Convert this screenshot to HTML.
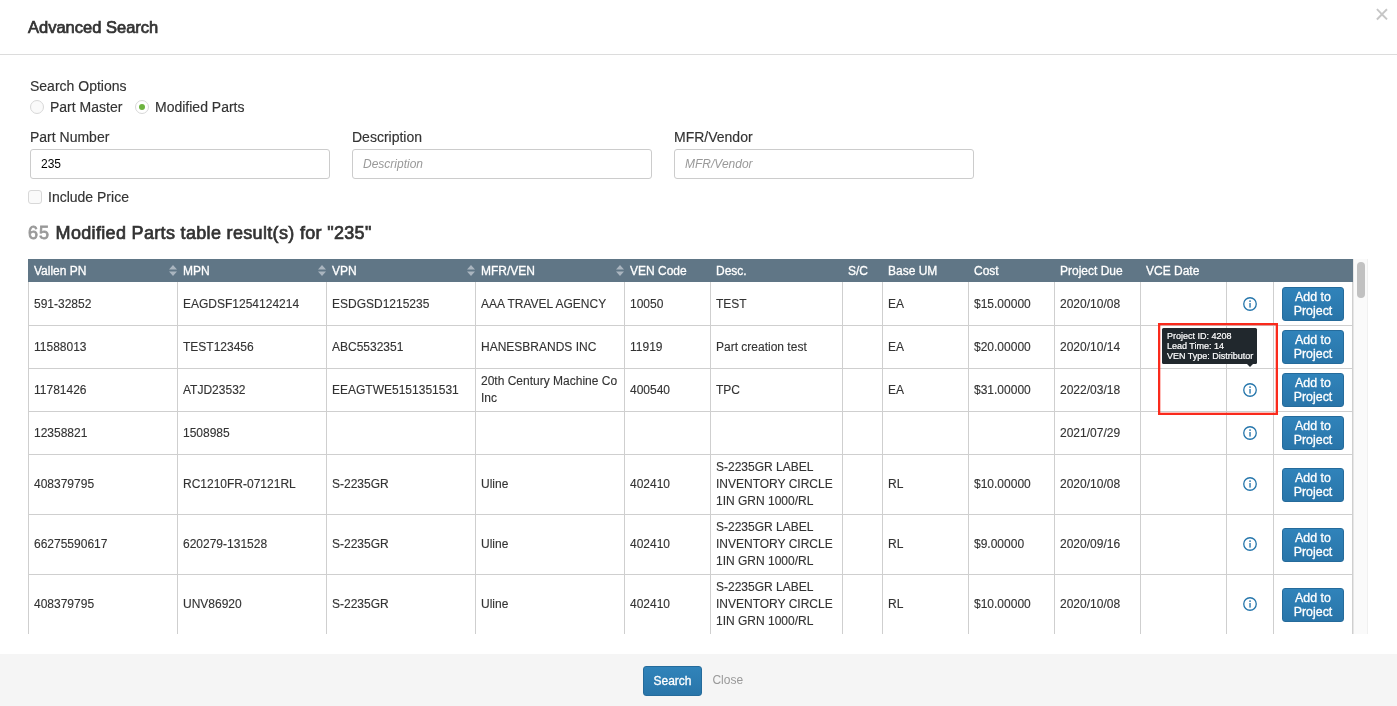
<!DOCTYPE html>
<html><head><meta charset="utf-8">
<style>
*{box-sizing:border-box}
html,body{margin:0;padding:0}
body{width:1397px;height:706px;overflow:hidden;background:#fff;font-family:"Liberation Sans",Arial,Helvetica,sans-serif;color:#333;font-size:14px;position:relative}
.hdr{position:absolute;left:0;top:0;width:1397px;height:55px;border-bottom:1px solid #dcdcdc}
.title{position:absolute;left:28px;top:17px;font-size:16.5px;line-height:20px;font-weight:normal;color:#333;-webkit-text-stroke:0.7px #333}
.x{position:absolute;left:1374.5px;top:3px;font-size:25.5px;line-height:22px;color:#c6c6c6;font-weight:normal}
.lbl{position:absolute;font-size:14px;line-height:18px;color:#333;white-space:nowrap;-webkit-text-stroke:0.15px #333}
.radio{position:absolute;width:14px;height:14px;border-radius:50%;border:1px solid #d8d8d8;background:#fafafa}
.radio.on{background:#fff}
.radio.on:after{content:"";position:absolute;left:3px;top:3px;width:6px;height:6px;border-radius:50%;background:#6db33f}
.inp{position:absolute;top:149px;width:300px;height:30px;border:1px solid #ccc;border-radius:3px;background:#fff;font-size:12px;line-height:28px;padding-left:10px;color:#000}
.inp.ph{font-style:italic;color:#999}
.chk{position:absolute;left:28px;top:190px;width:14px;height:14px;border:1px solid #d8d8d8;border-radius:3px;background:#fafafa}
.h3{position:absolute;left:28px;top:221px;font-size:18px;line-height:24px;font-weight:normal;color:#333;white-space:nowrap;letter-spacing:0.33px;-webkit-text-stroke:0.7px #333}
.h3 span{color:#999;-webkit-text-stroke:0.8px #999;letter-spacing:1.1px}
.tbl{position:absolute;left:28px;top:259px;width:1325px;height:375px;overflow:hidden}
table{border-collapse:separate;border-spacing:0;table-layout:fixed;width:1325px;font-size:12px}
th{background:#607686;color:#fff;font-weight:normal;text-align:left;height:23px;padding:1px 0 0 6px;font-size:12px;position:relative;white-space:nowrap;-webkit-text-stroke:0.3px #fff}
td{border:0 solid #cfcfcf;border-left-width:1px;border-bottom-width:1px;padding:0 4px 0 5px;color:#333;line-height:17px;vertical-align:middle;font-size:12px;-webkit-text-stroke:0.12px #333}
tr.r1 td{height:43px}
tr.r0 td{height:44px;padding-top:1px}
td.ic{padding:0}
tr.r2 td{height:60px}
tr.r2 .ico{position:relative;top:-0.6px}
td:last-child{border-right-width:1px}
.btn{display:block;width:62px;height:34px;margin:0 0 0 3px;background:linear-gradient(#3083ba,#2975a9);border:1px solid #256b9b;border-radius:3px;color:#fff;font-size:12.4px;line-height:14px;text-align:center;padding-top:2px;-webkit-text-stroke:0.3px #fff}
.ftr{position:absolute;left:0;top:654px;width:1397px;height:52px;background:#f5f5f5}
.sbtn{position:absolute;left:643px;top:666px;width:59px;height:30px;background:linear-gradient(#3083ba,#2975a9);border:1px solid #256b9b;border-radius:3px;color:#fff;font-size:12px;line-height:29px;text-align:center;-webkit-text-stroke:0.3px #fff}
.close{position:absolute;left:712.4px;top:672px;font-size:12px;line-height:16px;color:#999}
.sb{position:absolute;left:1353px;top:259px;width:15px;height:375px;background:#fafafa;border-left:1px solid #e6e6e6;border-right:1px solid #f0f0f0}
.thumb{position:absolute;left:1357px;top:262px;width:8px;height:36px;border-radius:5px;background:#c1c1c1}
.tip{position:absolute;left:1162px;top:328px;width:95px;height:36px;background:#21282d;border-radius:1.5px;color:#fff;font-size:9px;line-height:10px;padding:3px 0 0 5px;white-space:nowrap;-webkit-text-stroke:0.2px #fff}
.tip:after{content:"";position:absolute;left:84.5px;top:36px;border:3.5px solid transparent;border-top-color:#21282d;border-bottom:0}
.red{position:absolute;left:1158px;top:323px;width:120px;height:92px}
.ico{display:block;margin:0 auto}
.sort{position:absolute;right:0;top:6px}
</style></head><body>
<div class="hdr"><div class="title">Advanced Search</div><div class="x">&times;</div></div>

<div class="lbl" style="left:30px;top:77px">Search Options</div>
<div class="radio" style="left:30px;top:100px"></div>
<div class="lbl" style="left:50px;top:98px">Part Master</div>
<div class="radio on" style="left:135px;top:100px"></div>
<div class="lbl" style="left:155px;top:98px">Modified Parts</div>

<div class="lbl" style="left:30px;top:128px">Part Number</div>
<div class="lbl" style="left:352px;top:128px">Description</div>
<div class="lbl" style="left:674px;top:128px">MFR/Vendor</div>
<div class="inp" style="left:30px">235</div>
<div class="inp ph" style="left:352px">Description</div>
<div class="inp ph" style="left:674px">MFR/Vendor</div>

<div class="chk"></div>
<div class="lbl" style="left:48px;top:188px">Include Price</div>

<div class="h3"><span>65</span> Modified Parts table result(s) for "235"</div>

<div class="tbl">
<table>
<colgroup><col style="width:149px"><col style="width:149px"><col style="width:149px"><col style="width:149px"><col style="width:86px"><col style="width:132px"><col style="width:40px"><col style="width:86px"><col style="width:86px"><col style="width:86px"><col style="width:86px"><col style="width:47px"><col style="width:80px"></colgroup>
<thead><tr>
<th>Vallen PN<svg class="sort" width="8" height="11" viewBox="0 0 8 11"><path d="M4 0L8 4.5H0Z M4 11L0 6.5H8Z" fill="#aab5bf"/></svg></th>
<th>MPN<svg class="sort" width="8" height="11" viewBox="0 0 8 11"><path d="M4 0L8 4.5H0Z M4 11L0 6.5H8Z" fill="#aab5bf"/></svg></th>
<th>VPN<svg class="sort" width="8" height="11" viewBox="0 0 8 11"><path d="M4 0L8 4.5H0Z M4 11L0 6.5H8Z" fill="#aab5bf"/></svg></th>
<th>MFR/VEN<svg class="sort" width="8" height="11" viewBox="0 0 8 11"><path d="M4 0L8 4.5H0Z M4 11L0 6.5H8Z" fill="#aab5bf"/></svg></th>
<th>VEN Code</th><th>Desc.</th><th>S/C</th><th>Base UM</th><th>Cost</th><th>Project Due</th><th>VCE Date</th><th></th><th></th>
</tr></thead>
<tbody>
<tr class="r0"><td>591-32852</td><td>EAGDSF1254124214</td><td>ESDGSD1215235</td><td>AAA TRAVEL AGENCY</td><td>10050</td><td>TEST</td><td></td><td>EA</td><td>$15.00000</td><td>2020/10/08</td><td></td><td class="ic"><svg class="ico" width="16" height="16" viewBox="0 0 16 16"><circle cx="8" cy="8" r="6.25" fill="none" stroke="#2475ab" stroke-width="1.3"/><rect x="7.35" y="7" width="1.35" height="4.6" fill="#2475ab"/><circle cx="8.03" cy="5.1" r="0.9" fill="#2475ab"/></svg></td><td><span class="btn">Add to Project</span></td></tr>
<tr class="r1"><td>11588013</td><td>TEST123456</td><td>ABC5532351</td><td>HANESBRANDS INC</td><td>11919</td><td>Part creation test</td><td></td><td>EA</td><td>$20.00000</td><td>2020/10/14</td><td></td><td></td><td><span class="btn">Add to Project</span></td></tr>
<tr class="r1"><td>11781426</td><td>ATJD23532</td><td>EEAGTWE5151351531</td><td>20th Century Machine Co Inc</td><td>400540</td><td>TPC</td><td></td><td>EA</td><td>$31.00000</td><td>2022/03/18</td><td></td><td class="ic"><svg class="ico" width="16" height="16" viewBox="0 0 16 16"><circle cx="8" cy="8" r="6.25" fill="none" stroke="#2475ab" stroke-width="1.3"/><rect x="7.35" y="7" width="1.35" height="4.6" fill="#2475ab"/><circle cx="8.03" cy="5.1" r="0.9" fill="#2475ab"/></svg></td><td><span class="btn">Add to Project</span></td></tr>
<tr class="r1"><td>12358821</td><td>1508985</td><td></td><td></td><td></td><td></td><td></td><td></td><td></td><td>2021/07/29</td><td></td><td class="ic"><svg class="ico" width="16" height="16" viewBox="0 0 16 16"><circle cx="8" cy="8" r="6.25" fill="none" stroke="#2475ab" stroke-width="1.3"/><rect x="7.35" y="7" width="1.35" height="4.6" fill="#2475ab"/><circle cx="8.03" cy="5.1" r="0.9" fill="#2475ab"/></svg></td><td><span class="btn">Add to Project</span></td></tr>
<tr class="r2"><td>408379795</td><td>RC1210FR-07121RL</td><td>S-2235GR</td><td>Uline</td><td>402410</td><td>S-2235GR LABEL INVENTORY CIRCLE 1IN GRN 1000/RL</td><td></td><td>RL</td><td>$10.00000</td><td>2020/10/08</td><td></td><td class="ic"><svg class="ico" width="16" height="16" viewBox="0 0 16 16"><circle cx="8" cy="8" r="6.25" fill="none" stroke="#2475ab" stroke-width="1.3"/><rect x="7.35" y="7" width="1.35" height="4.6" fill="#2475ab"/><circle cx="8.03" cy="5.1" r="0.9" fill="#2475ab"/></svg></td><td><span class="btn">Add to Project</span></td></tr>
<tr class="r2"><td>66275590617</td><td>620279-131528</td><td>S-2235GR</td><td>Uline</td><td>402410</td><td>S-2235GR LABEL INVENTORY CIRCLE 1IN GRN 1000/RL</td><td></td><td>RL</td><td>$9.00000</td><td>2020/09/16</td><td></td><td class="ic"><svg class="ico" width="16" height="16" viewBox="0 0 16 16"><circle cx="8" cy="8" r="6.25" fill="none" stroke="#2475ab" stroke-width="1.3"/><rect x="7.35" y="7" width="1.35" height="4.6" fill="#2475ab"/><circle cx="8.03" cy="5.1" r="0.9" fill="#2475ab"/></svg></td><td><span class="btn">Add to Project</span></td></tr>
<tr class="r2"><td>408379795</td><td>UNV86920</td><td>S-2235GR</td><td>Uline</td><td>402410</td><td>S-2235GR LABEL INVENTORY CIRCLE 1IN GRN 1000/RL</td><td></td><td>RL</td><td>$10.00000</td><td>2020/10/08</td><td></td><td class="ic"><svg class="ico" width="16" height="16" viewBox="0 0 16 16"><circle cx="8" cy="8" r="6.25" fill="none" stroke="#2475ab" stroke-width="1.3"/><rect x="7.35" y="7" width="1.35" height="4.6" fill="#2475ab"/><circle cx="8.03" cy="5.1" r="0.9" fill="#2475ab"/></svg></td><td><span class="btn">Add to Project</span></td></tr>
</tbody></table>
</div>
<div class="sb"></div><div class="thumb"></div>
<div class="tip">Project ID: 4208<br>Lead Time: 14<br>VEN Type: Distributor</div>
<svg class="red" viewBox="0 0 120 92"><rect x="1.15" y="1.15" width="117.7" height="89.7" fill="none" stroke="#fa2a1c" stroke-width="2.3"/></svg>

<div class="ftr"></div>
<div class="sbtn">Search</div>
<div class="close">Close</div>
</body></html>
